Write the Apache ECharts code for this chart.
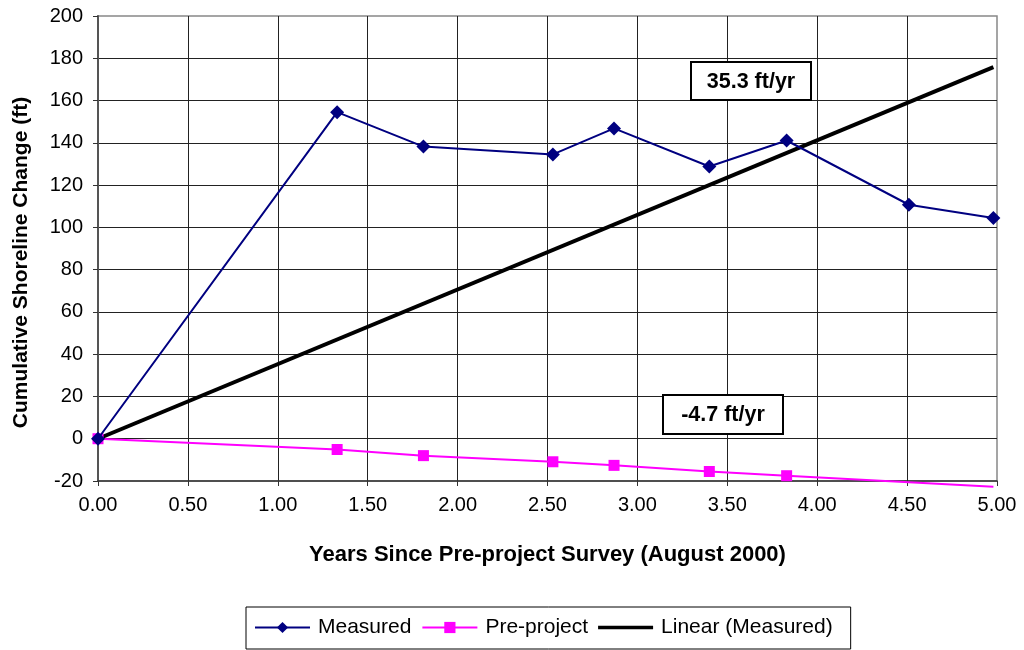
<!DOCTYPE html>
<html>
<head>
<meta charset="utf-8">
<script src="https://cdn.jsdelivr.net/npm/echarts@6/dist/echarts.min.js"></script>
<style>html,body{margin:0;padding:0;background:#fff}#c{width:1024px;height:650px}</style>
</head>
<body>
<div id="c"></div>
<script>
var measuredX = [0, 1.33, 1.81, 2.53, 2.87, 3.40, 3.83, 4.51, 4.98];
var measuredY = [0, 154.5, 138.2, 134.5, 146.8, 128.8, 141.1, 110.7, 104.4];
var preX = [0, 1.33, 1.81, 2.53, 2.87, 3.40, 3.83, 4.98];
var preY = [0, -5.1, -8.0, -10.9, -12.6, -15.5, -17.5, -22.7];
var linearX = [0, 4.98];
var linearY = [0, 175.8];
var xTicks = [0, 0.5, 1, 1.5, 2, 2.5, 3, 3.5, 4, 4.5, 5];
var yTicks = [-20, 0, 20, 40, 60, 80, 100, 120, 140, 160, 180, 200];
var rateLabels = ['35.3 ft/yr', '-4.7 ft/yr'];

function pairs(xs, ys) { return xs.map(function (x, i) { return [x, ys[i]]; }); }

var preData = pairs(preX, preY).map(function (p, i) {
  return i === preX.length - 1 ? { value: p, symbolSize: 0 } : p;
});

var font = '"Liberation Sans", Arial, sans-serif';
var chart = echarts.init(document.getElementById('c'), null, { renderer: 'canvas' });
chart.setOption({
  animation: false,
  backgroundColor: '#fff',
  textStyle: { fontFamily: font },
  grid: { left: 98, right: 27, top: 16, bottom: 169, show: true, borderColor: '#888', borderWidth: 1.5, backgroundColor: 'transparent' },
  xAxis: {
    type: 'value', min: 0, max: 5, interval: 0.5,
    name: 'Years Since Pre-project Survey (August 2000)',
    nameLocation: 'middle', nameGap: 63,
    nameTextStyle: { fontFamily: font, fontSize: 22, fontWeight: 'bold', color: '#000' },
    axisLine: { onZero: false, lineStyle: { color: '#333', width: 1.5 } },
    axisTick: { show: true, length: 5, lineStyle: { color: '#333' } },
    axisLabel: { fontFamily: font, fontSize: 20, color: '#000', margin: 14, formatter: function (v) { return v.toFixed(2); } },
    splitLine: { show: true, showMinLine: false, showMaxLine: false, lineStyle: { color: '#222', width: 1 } }
  },
  yAxis: {
    type: 'value', min: -20, max: 200, interval: 20,
    name: 'Cumulative Shoreline Change (ft)',
    nameLocation: 'middle', nameGap: 66,
    nameTextStyle: { fontFamily: font, fontSize: 21, fontWeight: 'bold', color: '#000', padding: [0, 28, 0, 0] },
    axisLine: { show: true, lineStyle: { color: '#555', width: 2 } },
    axisTick: { show: true, length: 5, lineStyle: { color: '#333' } },
    axisLabel: { fontFamily: font, fontSize: 20, color: '#000', margin: 15 },
    splitLine: { show: true, showMinLine: false, showMaxLine: false, lineStyle: { color: '#222', width: 1 } }
  },
  legend: {
    left: 246, top: 607,
    padding: [10, 18, 11, 8],
    itemGap: 10, itemWidth: 55, itemHeight: 14,
    borderColor: '#000', borderWidth: 1,
    textStyle: { fontFamily: font, fontSize: 21, color: '#000', padding: [0, 0, 0, 3] },
    data: ['Measured', 'Pre-project', { name: 'Linear (Measured)', icon: 'path://M0,0H55V3.5H0Z' }]
  },
  series: [
    {
      name: 'Linear (Measured)', type: 'line', data: pairs(linearX, linearY),
      symbol: 'none', lineStyle: { color: '#000', width: 4 }, itemStyle: { color: '#000' }, z: 3
    },
    {
      name: 'Pre-project', type: 'line', data: preData, clip: false,
      symbol: 'rect', symbolSize: 11,
      lineStyle: { color: '#ff00ff', width: 2 }, itemStyle: { color: '#ff00ff' }, z: 4
    },
    {
      name: 'Measured', type: 'line', data: pairs(measuredX, measuredY),
      symbol: 'diamond', symbolSize: 14,
      lineStyle: { color: '#000080', width: 2 }, itemStyle: { color: '#000080' }, z: 5
    }
  ],
  graphic: [
    { type: 'rect', shape: { x: 691, y: 62, width: 120, height: 38 }, style: { fill: '#fff', stroke: '#000', lineWidth: 2 }, z: 10 },
    { type: 'text', x: 751, y: 82, style: { text: rateLabels[0], font: 'bold 21.5px ' + font, fill: '#000', align: 'center', verticalAlign: 'middle' }, z: 11 },
    { type: 'rect', shape: { x: 663, y: 395, width: 120, height: 39 }, style: { fill: '#fff', stroke: '#000', lineWidth: 2 }, z: 10 },
    { type: 'text', x: 723, y: 415, style: { text: rateLabels[1], font: 'bold 21.5px ' + font, fill: '#000', align: 'center', verticalAlign: 'middle' }, z: 11 }
  ]
});
</script>
</body>
</html>
